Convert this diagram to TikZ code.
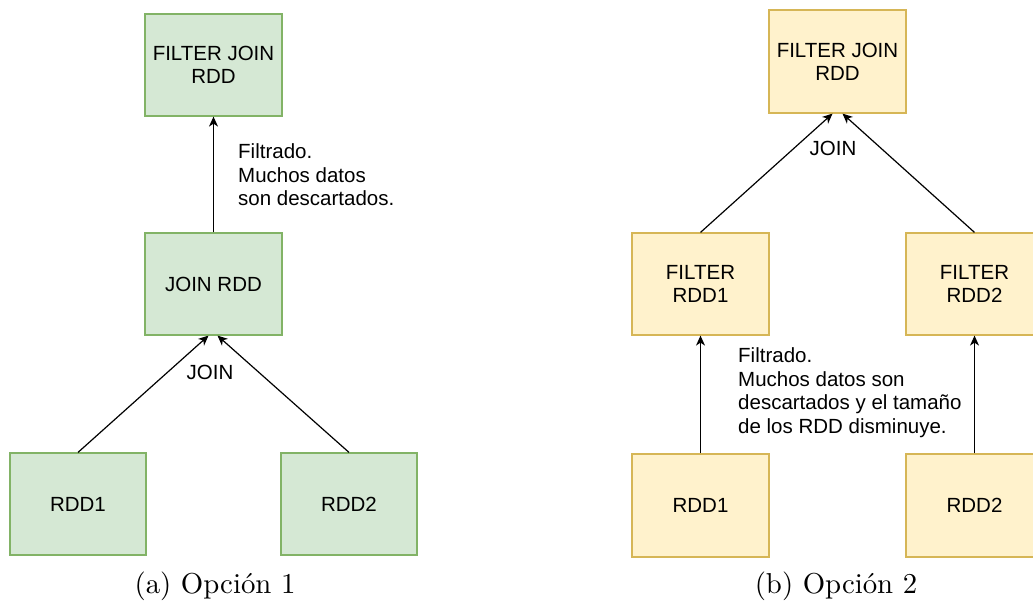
\documentclass[tikz,border=0pt]{standalone}
\usepackage{fontspec}
\newfontfamily\boxfont{Liberation Sans}
\usetikzlibrary{arrows.meta}
\definecolor{gfill}{HTML}{D5E8D4}
\definecolor{gline}{HTML}{82B366}
\definecolor{yfill}{HTML}{FFF2CC}
\definecolor{yline}{HTML}{D6B656}
\newcommand{\captext}[1]{\scalebox{2.88}{\rmfamily\fontsize{10}{12}\selectfont #1}}
\tikzset{
  box/.style={draw, line width=1.2pt, minimum width=137pt, minimum height=102pt, inner sep=0pt, align=center, font=\boxfont\fontsize{20.5}{23}\selectfont},
  gbox/.style={box, fill=gfill, draw=gline},
  ybox/.style={box, fill=yfill, draw=yline},
  arr/.style={-{Stealth[length=10pt,width=9pt,inset=3pt]}, line width=1.2pt, black},
  lbl/.style={inner sep=0pt, align=left, font=\boxfont\fontsize{20.5}{23.5}\selectfont},
  captxt/.style={inner sep=0pt, anchor=base}
}
\begin{document}
\begin{tikzpicture}[x=1pt,y=-1pt]
\useasboundingbox (0,0) rectangle (1033,606);
% Left: Opcion 1
\node[gbox] (lt) at (213.5,65) {FILTER JOIN\\RDD};
\node[gbox] (lm) at (213.5,284) {JOIN RDD};
\node[gbox, minimum width=136pt] (lb1) at (78,504) {RDD1};
\node[gbox, minimum width=136pt] (lb2) at (349,504) {RDD2};
\draw[arr] (lm.north) -- (lt.south);
\draw[arr] (lb1.north) -- ([xshift=-5pt]lm.south);
\draw[arr] (lb2.north) -- ([xshift=4pt]lm.south);
\node[lbl, anchor=west] (lfil) at (238,175) {Filtrado.\\Muchos datos\\son descartados.};
\node[lbl] (ljoin) at (210,372) {JOIN};
\node[captxt] (capa) at (215,593) {\captext{(a) Opción 1}};
% Right: Opcion 2
\node[ybox, minimum height=103pt] (rt) at (837.5,61.5) {FILTER JOIN\\RDD};
\node[ybox] (rm1) at (700.5,284) {FILTER\\RDD1};
\node[ybox] (rm2) at (974.5,284) {FILTER\\RDD2};
\node[ybox, minimum height=103pt] (rb1) at (700.5,505.5) {RDD1};
\node[ybox, minimum height=103pt] (rb2) at (974.5,505.5) {RDD2};
\draw[arr] (rm1.north) -- ([xshift=-5pt]rt.south);
\draw[arr] (rm2.north) -- ([xshift=5pt]rt.south);
\draw[arr] (rb1.north) -- (rm1.south);
\draw[arr] (rb2.north) -- (rm2.south);
\node[lbl] (rjoin) at (833,148) {JOIN};
\node[lbl, anchor=west] (rfil) at (738,392.5) {Filtrado.\\Muchos datos son\\descartados y el tamaño\\de los RDD disminuye.};
\node[captxt] (capb) at (836,593) {\captext{(b) Opción 2}};
\end{tikzpicture}
\end{document}
